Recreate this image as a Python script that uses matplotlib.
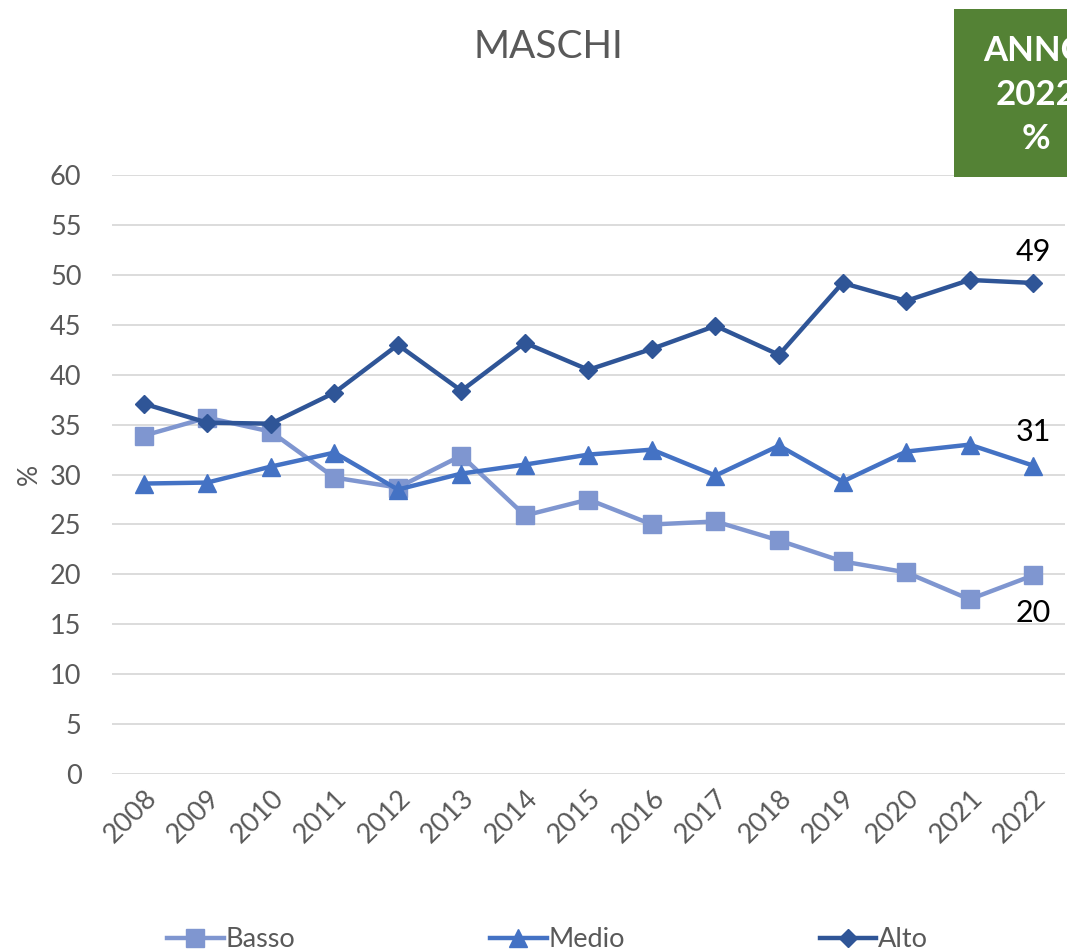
import matplotlib.pyplot as plt
from matplotlib.patches import Rectangle

years = ['2008', '2009', '2010', '2011', '2012', '2013', '2014', '2015',
         '2016', '2017', '2018', '2019', '2020', '2021', '2022']
basso = [33.9, 35.7, 34.3, 29.7, 28.7, 31.9, 25.9, 27.5, 25.0, 25.3, 23.4, 21.3, 20.2, 17.5, 19.9]
medio = [29.1, 29.2, 30.8, 32.2, 28.5, 30.1, 31.0, 32.0, 32.5, 29.9, 32.9, 29.3, 32.3, 33.0, 30.9]
alto = [37.1, 35.2, 35.1, 38.2, 43.0, 38.4, 43.2, 40.5, 42.6, 44.9, 42.0, 49.2, 47.4, 49.5, 49.2]
end_labels = ['20', '31', '49']

plt.rcParams['font.family'] = ['Lato', 'DejaVu Sans']
grey = '#595959'

fig = plt.figure(figsize=(10.67, 9.52), dpi=100)
ax = fig.add_axes([0.105, 0.187, 0.893, 0.629])

x = list(range(len(years)))
ax.plot(x, basso, color='#7F96D0', lw=3.2, marker='s', ms=12.5, label='Basso', zorder=3)
ax.plot(x, medio, color='#4472C4', lw=3.2, marker='^', ms=12.5, label='Medio', zorder=4)
ax.plot(x, alto, color='#2F5597', lw=3.2, marker='D', ms=9.5, label='Alto', zorder=5)

# end labels
ax.annotate(end_labels[0], (x[-1], basso[-1]), xytext=(0, -27), textcoords='offset points',
            ha='center', va='center', fontsize=22, color='black')
ax.annotate(end_labels[1], (x[-1], medio[-1]), xytext=(0, 24), textcoords='offset points',
            ha='center', va='center', fontsize=22, color='black')
ax.annotate(end_labels[2], (x[-1], alto[-1]), xytext=(0, 22), textcoords='offset points',
            ha='center', va='center', fontsize=22, color='black')

ax.set_xlim(-0.5, len(years) - 0.5)
ax.set_ylim(0, 60)
ax.set_yticks(range(0, 61, 5))
ax.set_xticks(x)
ax.set_xticklabels(years, rotation=45, ha='right', rotation_mode='anchor')
ax.tick_params(axis='both', length=0, labelsize=19.5, colors=grey)
ax.tick_params(axis='y', pad=22)
ax.tick_params(axis='x', pad=8)
ax.grid(axis='y', color='#D9D9D9', lw=1.3)
ax.set_axisbelow(True)
for s in ax.spines.values():
    s.set_visible(False)
ax.set_ylabel('%', fontsize=19, color=grey, labelpad=6)

fig.text(0.514, 0.951, 'MASCHI', ha='center', va='center', fontsize=28, color=grey)

# green badge, cut at the right edge as in the source
fig.patches.append(Rectangle((954 / 1067, 1 - 177 / 952), 0.2, 168 / 952,
                             transform=fig.transFigure, facecolor='#548235',
                             edgecolor='none', zorder=1))
fig.text(1036 / 1067, 1 - 95 / 952, 'ANNO\n2022\n%', ha='center', va='center',
         fontsize=25, fontweight='bold', color='white', linespacing=1.45)

leg = fig.legend(loc='lower center', bbox_to_anchor=(0.513, -0.026), ncol=3, frameon=False,
                 fontsize=19.5, handlelength=2.1, handletextpad=0.05, columnspacing=7.2)
for t in leg.get_texts():
    t.set_color(grey)

fig.savefig('out.png', dpi=100)
